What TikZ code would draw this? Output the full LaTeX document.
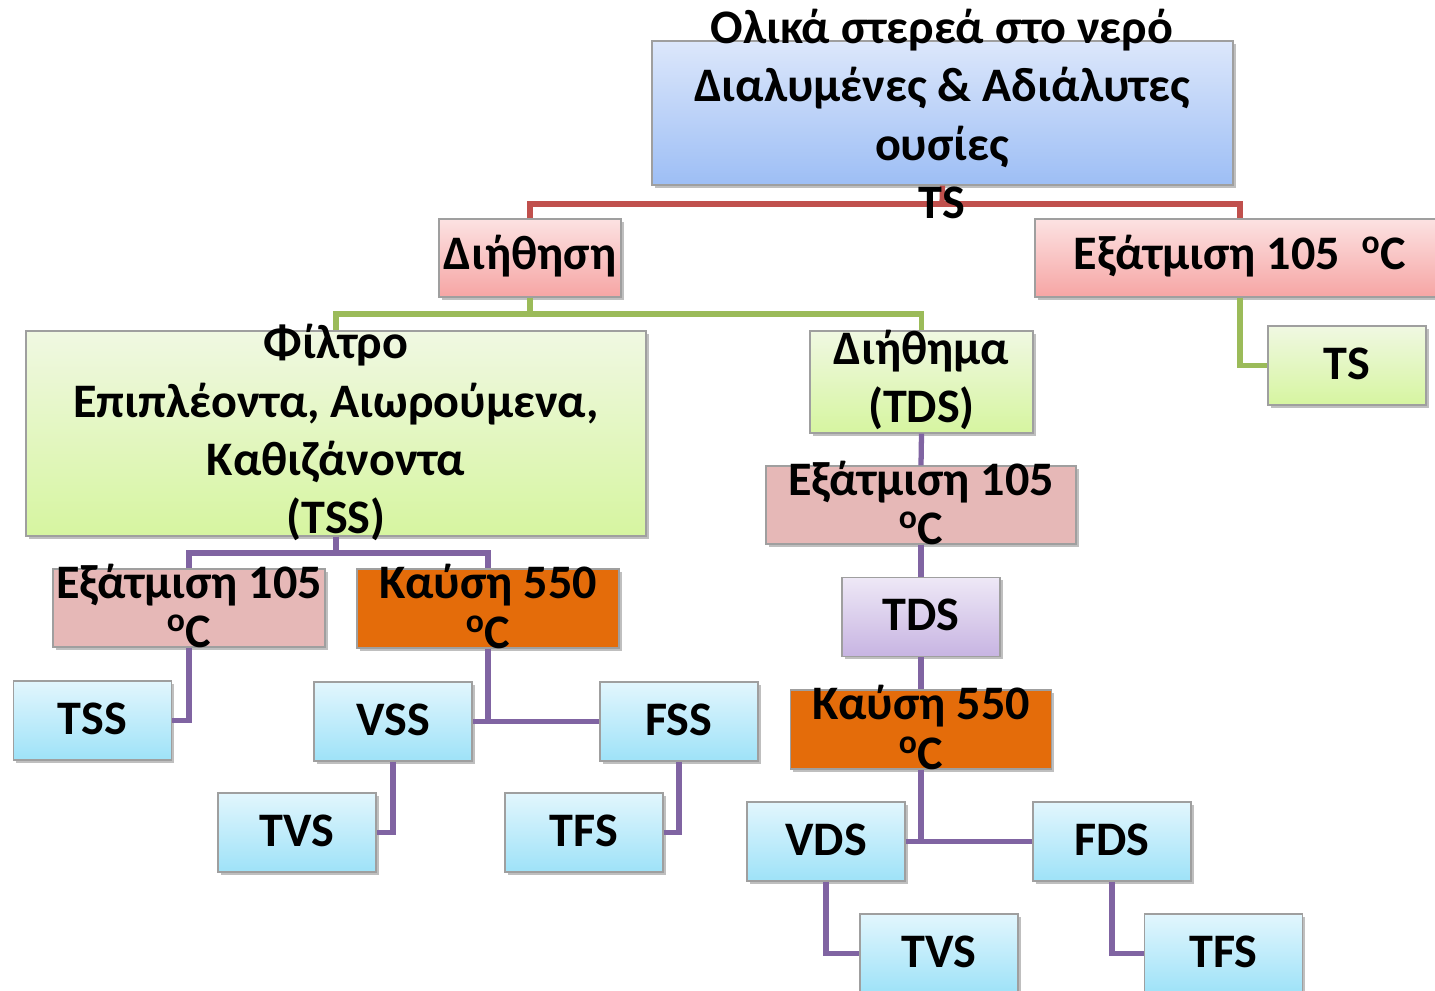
\documentclass[tikz,border=0pt]{standalone}
\usepackage{fontspec}
\setmainfont{Carlito}
\usetikzlibrary{shadows}
\definecolor{cred}{HTML}{C0504D}
\definecolor{cgreen}{HTML}{9BBB59}
\definecolor{cpurple}{HTML}{8064A2}
\definecolor{dpink}{HTML}{E6B8B7}
\definecolor{corange}{HTML}{E46C0A}
\newcommand{\dg}{\textsuperscript{o}C}
\tikzset{
  x=0.02cm, y=-0.02cm,
  bx/.style={draw=gray!75, line width=0.7pt, inner sep=0pt,
    drop shadow={shadow xshift=1.5pt, shadow yshift=-1.5pt, opacity=0.25, fill=black}},
  blueb/.style={bx, top color={rgb,255:red,220;green,231;blue,251}, bottom color={rgb,255:red,157;green,190;blue,245}},
  pinkb/.style={bx, top color={rgb,255:red,252;green,226;blue,226}, bottom color={rgb,255:red,246;green,165;blue,164}},
  greenb/.style={bx, top color={rgb,255:red,240;green,248;blue,226}, bottom color={rgb,255:red,214;green,245;blue,160}},
  dpinkb/.style={bx, fill=dpink},
  orangeb/.style={bx, fill=corange},
  lavb/.style={bx, top color={rgb,255:red,238;green,232;blue,246}, bottom color={rgb,255:red,199;green,180;blue,226}},
  cyanb/.style={bx, top color={rgb,255:red,226;green,246;blue,253}, bottom color={rgb,255:red,158;green,226;blue,248}},
  small/.style={minimum width=3.16cm, minimum height=1.58cm},
  txt/.style={inner sep=0pt, align=center, yshift=1.2pt, font=\fontsize{27.4}{28.3}\selectfont\bfseries},
  txtw/.style={inner sep=0pt, align=center, yshift=1.2pt, font=\fontsize{27.4}{33.2}\selectfont\bfseries},
  conn/.style={line width=3pt},
}
\begin{document}
\begin{tikzpicture}
\useasboundingbox (0,0) rectangle (1435,990);
% boxes
\node[blueb, minimum width=11.62cm, minimum height=2.88cm] (top) at (942.5,113) {};
\node[pinkb, minimum width=3.64cm, minimum height=1.56cm] (dih) at (530,258) {};
\node[pinkb, minimum width=8.2cm, minimum height=1.56cm] (exR) at (1240,258) {};
\node[greenb, minimum width=12.4cm, minimum height=4.1cm] (fil) at (336,433.5) {};
\node[greenb, minimum width=4.46cm, minimum height=2.04cm] (dima) at (921.5,382) {};
\node[greenb, small] (tsr) at (1347,365.5) {};
\node[dpinkb, minimum width=5.44cm, minimum height=1.56cm] (exL) at (189,608) {};
\node[orangeb, minimum width=5.24cm, minimum height=1.58cm] (kaL) at (488,608.5) {};
\node[cyanb, small] (tss) at (92.5,720.5) {};
\node[cyanb, small] (vss) at (393,721.5) {};
\node[cyanb, small] (fss) at (679,721.5) {};
\node[cyanb, small] (tvs1) at (297,832.5) {};
\node[cyanb, small] (tfs1) at (584,832.5) {};
\node[dpinkb, minimum width=6.2cm, minimum height=1.56cm] (exM) at (921,505) {};
\node[lavb, small] (tds) at (921,617) {};
\node[orangeb, minimum width=5.22cm, minimum height=1.58cm] (kaM) at (921,729.5) {};
\node[cyanb, small] (vds) at (826,841.5) {};
\node[cyanb, small] (fds) at (1112,841.5) {};
\node[cyanb, small] (tvs2) at (939,953.5) {};
\node[cyanb, small] (tfs2) at (1223.5,953.5) {};
% connectors
\coordinate (j1) at (942,204);
\coordinate (j2) at (530,314);
\coordinate (j3) at (336,553);
\draw[conn, cred] (top.south) -- (j1);
\draw[conn, cred] (dih.north) |- (j1) -| (exR.north);
\draw[conn, cgreen] (dih.south) -- (j2);
\draw[conn, cgreen] (fil.north) |- (j2) -| (dima.north);
\draw[conn, cgreen] (exR.south) |- (tsr.west);
\draw[conn, cpurple] (fil.south) -- (j3);
\draw[conn, cpurple] (exL.north) |- (j3) -| (kaL.north);
\draw[conn, cpurple] (exL.south) |- (tss.east);
\draw[conn, cpurple] (kaL.south) -- (kaL.south |- vss.east);
\draw[conn, cpurple] (vss.east) -- (fss.west);
\draw[conn, cpurple] (vss.south) |- (tvs1.east);
\draw[conn, cpurple] (fss.south) |- (tfs1.east);
\draw[conn, cpurple] (dima.south) -- (exM.north);
\draw[conn, cpurple] (exM.south) -- (tds.north);
\draw[conn, cpurple] (tds.south) -- (kaM.north);
\draw[conn, cpurple] (kaM.south) -- (kaM.south |- vds.east);
\draw[conn, cpurple] (vds.east) -- (fds.west);
\draw[conn, cpurple] (vds.south) |- (tvs2.west);
\draw[conn, cpurple] (fds.south) |- (tfs2.west);
% texts
\node[txtw] (topT) at (942,116) {Ολικά στερεά στο νερό\\Διαλυμένες \& Αδιάλυτες\\ουσίες\\TS};
\node[txt] (dihT) at (dih) {Διήθηση};
\node[txt] (exRT) at (exR) {Εξάτμιση 105\hspace{0.45em}\dg};
\node[txtw] (filT) at (336,435) {Φίλτρο\\Επιπλέοντα, Αιωρούμενα,\\Καθιζάνοντα\\(TSS)};
\node[txtw] (dimaT) at (dima) {Διήθημα\\(TDS)};
\node[txt] (tsrT) at (tsr) {TS};
\node[txt] (exLT) at (exL) {Εξάτμιση 105\\\dg};
\node[txt] (kaLT) at (kaL) {Καύση 550\\\dg};
\node[txt] (tssT) at (tss) {TSS};
\node[txt] (vssT) at (vss) {VSS};
\node[txt] (fssT) at (fss) {FSS};
\node[txt] (tvs1T) at (tvs1) {TVS};
\node[txt] (tfs1T) at (tfs1) {TFS};
\node[txt] (exMT) at (exM) {Εξάτμιση 105\\\dg};
\node[txt] (tdsT) at (tds) {TDS};
\node[txt] (kaMT) at (kaM) {Καύση 550\\\dg};
\node[txt] (vdsT) at (vds) {VDS};
\node[txt] (fdsT) at (fds) {FDS};
\node[txt] (tvs2T) at (tvs2) {TVS};
\node[txt] (tfs2T) at (tfs2) {TFS};
\end{tikzpicture}
\end{document}
